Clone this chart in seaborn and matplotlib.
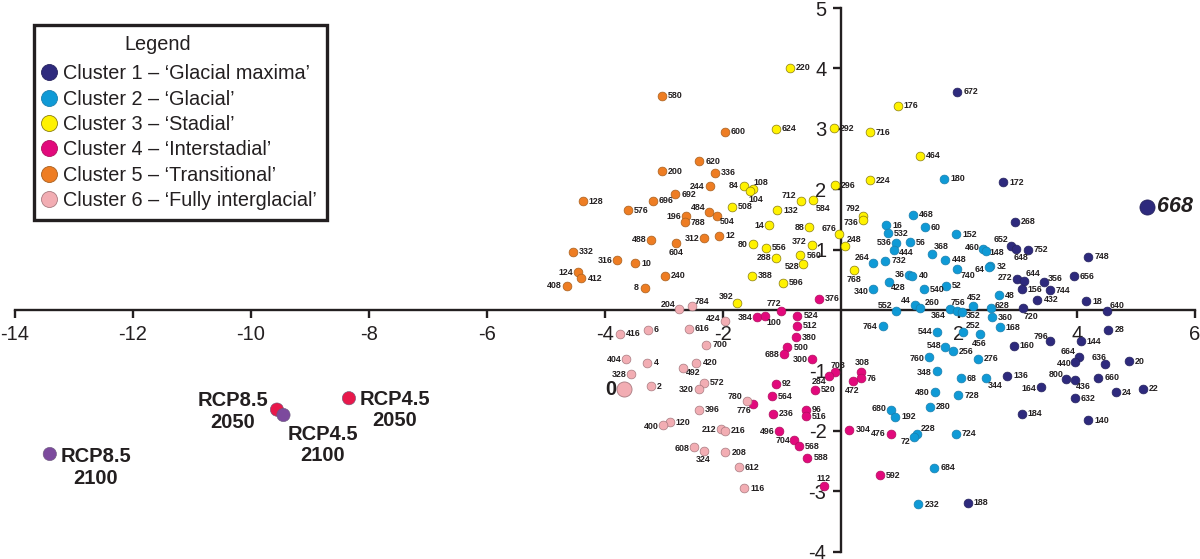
import pandas as pd
import numpy as np
import matplotlib
matplotlib.use("Agg")
import matplotlib.pyplot as plt
from matplotlib.lines import Line2D
import seaborn as sns

# cluster 1 - glacial maxima
c1_ids = [672, 172, 668, 268, 652, 648, 752, 748, 656, 272, 644, 356, 156, 744, 432, 18, 720, 640,
          28, 796, 144, 160, 664, 440, 636, 20, 136, 660, 800, 436, 164, 24, 22, 632, 184, 140, 188]
c1_x = [1.97, 2.75, 5.19, 2.95, 2.88, 2.96, 3.17, 4.19, 3.95, 2.98, 3.10, 3.44, 3.06, 3.54, 3.33, 4.16, 3.08, 4.50,
        4.53, 3.55, 4.06, 2.93, 4.03, 3.97, 4.47, 4.88, 2.82, 4.36, 3.81, 3.96, 3.39, 4.66, 5.12, 3.96, 3.06, 4.19, 2.15]
c1_y = [3.64, 2.13, 1.72, 1.47, 1.07, 1.02, 1.00, 0.89, 0.56, 0.52, 0.48, 0.47, 0.35, 0.33, 0.17, 0.15, 0.03, -0.01,
        -0.33, -0.52, -0.52, -0.60, -0.78, -0.86, -0.90, -0.85, -1.10, -1.13, -1.15, -1.16, -1.29, -1.37, -1.31, -1.47, -1.73, -1.84, -3.21]

# cluster 2 - glacial
c2_ids = [180, 468, 16, 60, 532, 152, 536, 56, 444, 460, 148, 368, 264, 732, 448, 740, 32, 64, 36, 40, 428, 52, 340,
          540, 48, 44, 260, 452, 628, 552, 756, 364, 352, 360, 764, 544, 252, 456, 168, 548, 256, 760, 276, 348, 68,
          344, 480, 728, 280, 680, 192, 228, 72, 724, 684, 232]
c2_x = [1.75, 1.22, 0.77, 1.42, 0.79, 1.95, 0.94, 1.17, 0.90, 2.41, 2.45, 1.55, 0.55, 0.75, 1.77, 1.97, 2.53, 2.50, 1.16, 1.21, 0.81, 1.78, 0.54,
        1.40, 2.67, 1.25, 1.34, 2.24, 2.54, 0.94, 1.84, 1.96, 2.05, 2.56, 0.71, 1.63, 2.06, 2.35, 2.69, 1.77, 1.89, 1.49, 2.32, 1.62, 2.03,
        2.45, 1.59, 1.99, 1.50, 0.84, 0.92, 1.28, 1.24, 1.95, 1.58, 1.31]
c2_y = [2.19, 1.59, 1.41, 1.38, 1.28, 1.26, 1.12, 1.13, 1.00, 1.02, 0.99, 0.94, 0.78, 0.82, 0.84, 0.69, 0.73, 0.71, 0.58, 0.57, 0.47, 0.40, 0.35,
        0.35, 0.25, 0.09, 0.04, 0.07, 0.03, -0.01, 0.01, -0.01, -0.03, -0.12, -0.27, -0.36, -0.36, -0.40, -0.29, -0.61, -0.69, -0.78, -0.81, -1.02, -1.14,
        -1.13, -1.37, -1.42, -1.61, -1.67, -1.78, -2.06, -2.11, -2.06, -2.63, -3.24]

# cluster 3 - stadial
c3_ids = [220, 624, 292, 296, 84, 108, 104, 508, 712, 584, 132, 14, 88, 676, 372, 80, 556, 288, 560, 528, 388, 596, 392,
          176, 716, 464, 224, 792, 736, 248, 768]
c3_x = [-0.87, -1.11, -0.12, -0.10, -1.65, -1.49, -1.54, -1.85, -0.68, -0.47, -1.08, -1.22, -0.54, -0.03, -0.50, -1.49, -1.27, -1.11, -0.69, -0.64, -1.51, -0.99, -1.77,
        0.96, 0.49, 1.34, 0.49, 0.37, 0.38, 0.06, 0.22]
c3_y = [4.04, 3.02, 3.03, 2.08, 2.07, 2.01, 1.98, 1.72, 1.81, 1.83, 1.66, 1.41, 1.38, 1.27, 1.09, 1.10, 1.04, 0.87, 0.91, 0.77, 0.57, 0.45, 0.11,
        3.40, 2.96, 2.57, 2.16, 1.57, 1.50, 1.07, 0.67]

# cluster 4 - interstadial
c4_ids = [376, 772, 384, 100, 524, 512, 380, 500, 688, 300, 708, 284, 308, 76, 472, 92, 520, 564, 776, 236, 96, 516, 496,
          304, 704, 568, 588, 112, 476, 592]
c4_x = [-0.38, -1.01, -1.42, -1.29, -0.74, -0.75, -0.77, -0.91, -0.97, -0.50, -0.10, -0.21, 0.34, 0.34, 0.20, -1.10, -0.44, -1.17, -1.50, -1.15, -0.60, -0.60, -1.05,
        0.14, -0.79, -0.71, -0.57, -0.29, 0.85, 0.66]
c4_y = [0.19, -0.01, -0.12, -0.10, -0.10, -0.26, -0.45, -0.62, -0.74, -0.81, -1.04, -1.10, -1.03, -1.14, -1.19, -1.23, -1.33, -1.44, -1.57, -1.73, -1.66, -1.77, -2.01,
        -2.00, -2.16, -2.27, -2.46, -2.94, -2.06, -2.75]

# cluster 5 - transitional
c5_ids = [580, 600, 620, 200, 336, 244, 692, 696, 128, 576, 484, 196, 504, 788, 12, 312, 488, 604, 332, 316, 10, 124, 412, 240, 408, 8]
c5_x = [-3.03, -1.97, -2.40, -3.03, -2.14, -2.22, -2.81, -3.19, -4.38, -3.61, -2.24, -2.63, -2.11, -2.65, -2.06, -2.32, -3.22, -2.80, -4.54, -3.79, -3.49, -4.46, -4.40, -2.98, -4.64, -3.33]
c5_y = [3.57, 2.97, 2.48, 2.31, 2.29, 2.06, 1.93, 1.82, 1.81, 1.66, 1.64, 1.56, 1.57, 1.46, 1.24, 1.20, 1.17, 1.12, 0.97, 0.84, 0.78, 0.64, 0.53, 0.57, 0.40, 0.37]

# cluster 6 - fully interglacial
c6_ids = [204, 784, 424, 616, 6, 416, 700, 404, 4, 420, 492, 328, 572, 2, 320, 0, 780, 396, 120, 400, 212, 216, 608, 324, 208, 612, 116]
c6_x = [-2.75, -2.53, -1.97, -2.58, -3.27, -3.75, -2.28, -3.64, -3.28, -2.45, -2.68, -3.56, -2.33, -3.22, -2.41, -3.67, -1.60, -2.41, -2.90, -3.02, -2.03, -1.97, -2.49, -2.33, -1.96, -1.73, -1.64]
c6_y = [0.01, 0.07, -0.19, -0.31, -0.33, -0.40, -0.58, -0.81, -0.88, -0.88, -0.96, -1.06, -1.21, -1.27, -1.31, -1.32, -1.51, -1.66, -1.87, -1.92, -1.99, -2.01, -2.29, -2.35, -2.37, -2.62, -2.97]

# future scenarios
rcp_names = ["RCP8.5\n2050", "RCP4.5\n2100", "RCP4.5\n2050", "RCP8.5\n2100"]
rcp_x = [-9.56, -9.45, -8.34, -13.41]
rcp_y = [-1.66, -1.75, -1.47, -2.40]
rcp_year = ["2050", "2100", "2050", "2100"]

cluster_names = ["Cluster 1 \u2013 \u2018Glacial maxima\u2019", "Cluster 2 \u2013 \u2018Glacial\u2019",
                 "Cluster 3 \u2013 \u2018Stadial\u2019", "Cluster 4 \u2013 \u2018Interstadial\u2019",
                 "Cluster 5 \u2013 \u2018Transitional\u2019", "Cluster 6 \u2013 \u2018Fully interglacial\u2019"]
x_ticks = [-14, -12, -10, -8, -6, -4, -2, 2, 4, 6]
y_ticks = [5, 4, 3, 2, 1, -1, -2, -3, -4]

colors = ["#2e2a7d", "#0f9ad6", "#fff200", "#e2097c", "#ee7d23", "#f2adb3"]
edges = ["#26235f", "#1a7fae", "#8a7d10", "#b0105f", "#a8601f", "#a87a80"]
rcp_colors = {"2050": "#e8184b", "2100": "#7c4a9d"}

# label placement in screen pixels from the dot centre (dx, dy down), anything else sits on the right
label_offsets = {
    244: (-12.7, 0), 484: (-10.7, -4), 196: (-12, 0), 504: (10.7, 5.3), 312: (-12, 0.7), 488: (-12, 0), 604: (0.7, 10),
    316: (-12, 0.7), 124: (-12, 0.7), 408: (-12.7, 0), 8: (-8, 0), 84: (-10, 0), 108: (7.3, -6.7), 104: (6, 8.3),
    712: (-11.7, -5.7), 584: (10, 8.3), 14: (-9.7, 0), 88: (-9.7, 0), 676: (-10.3, -5.3), 372: (-12, -2.7), 80: (-10, 1),
    288: (-11.7, 0), 528: (-11, 3), 392: (-10.3, -6.7), 204: (-11, -4.7), 784: (10.7, -4.3), 772: (-7.7, -6.7),
    792: (-9.7, -7.3), 736: (-12.7, 2.7), 248: (10, -6), 768: (0, 9.3), 264: (-11, -5.3), 536: (-12.3, 0), 444: (12, 2.7),
    368: (8.7, -6.7), 460: (-11.3, -1.3), 148: (11.7, 2.3), 740: (10.3, 6.7), 64: (-9, 1.7), 36: (-9.3, -1), 428: (9.7, 6),
    340: (-11.7, 2), 552: (-11.7, -5), 44: (-9.3, -4.3), 260: (11.7, -4.7), 756: (8.7, -7), 364: (-18, 4.7), 352: (11.3, 3.3),
    452: (0.7, -8), 628: (11.3, -2.3), 652: (-10, -6.7), 648: (5, 9), 272: (-11.7, -1.3), 644: (8.7, -7.3), 356: (11.7, -3.7),
    720: (8.7, 8), 640: (10.3, -5), 424: (-11.7, -3.3), 384: (-12, 0.7), 100: (9.3, 6.3), 404: (-12, 0.7), 328: (-12.3, 1),
    492: (10.3, 5), 320: (-12.3, 0.7), 780: (-11.3, -4), 776: (-9, 6.7), 400: (-12, 1), 212: (-12, 0), 608: (-12.3, 1.3),
    324: (0, 9), 688: (-12, 0), 300: (-11.7, 1.3), 708: (2.7, -6.7), 284: (-9.7, 6), 308: (1, -9.3), 472: (-0.7, 8.7),
    496: (-12, 1), 704: (-11.7, 1.3), 112: (0, -8), 764: (-12.7, 0), 544: (-12.3, 0), 252: (10.3, -6.3), 456: (0, 9),
    548: (-11.7, -1.3), 760: (-11.7, 1.7), 348: (-12, 1), 344: (9.3, 7.7), 480: (-12.3, 0), 680: (-11.7, -1.3), 476: (-12.7, 0),
    72: (-8.7, 5), 228: (11.3, -4.7), 796: (-9.3, -4.7), 664: (-10.7, -5), 440: (-11.3, 1.7), 636: (-6, -6.7), 800: (-10, -4.3),
    436: (8.7, 6.7), 164: (-11.7, 0.7),
}
rcp_offsets = [(-44, 2), (39, 30), (46, 12), (46, 13.5)]

sns.set_style("white")
plt.rcParams["font.family"] = ["Liberation Sans", "DejaVu Sans"]
ink = "#231f20"

# values were read at 60 px per unit, the printed y axis is closer to 60.4
y_fix = 60 / 60.4

frames = []
for n, (ids, xs, ys) in enumerate([(c1_ids, c1_x, c1_y), (c2_ids, c2_x, c2_y), (c3_ids, c3_x, c3_y),
                                   (c4_ids, c4_x, c4_y), (c5_ids, c5_x, c5_y), (c6_ids, c6_x, c6_y)]):
    frames.append(pd.DataFrame({"id": ids, "x": xs, "y": np.array(ys) * y_fix, "cluster": n}))
df = pd.concat(frames, ignore_index=True)
# 668 and sample 0 are the two big reference dots
big = df["id"].isin([668, 0])

fig = plt.figure(figsize=(12, 5.59), dpi=100)
ax = fig.add_axes([0, 0, 1, 1])
ax.set_xlim((0 - 841) / 59, (1200 - 841) / 59)
ax.set_ylim((310 - 559) / 60.4, 310 / 60.4)

for n in range(6):
    sub = df[(df["cluster"] == n) & ~big]
    sns.scatterplot(data=sub, x="x", y="y", color=colors[n], edgecolor=edges[n], linewidth=0.5, s=40,
                    legend=False, ax=ax, zorder=3)
    sub = df[(df["cluster"] == n) & big]
    if len(sub):
        sns.scatterplot(data=sub, x="x", y="y", color=colors[n], edgecolor=edges[n], linewidth=0.6, s=118,
                        legend=False, ax=ax, zorder=3)

rcp = pd.DataFrame({"x": rcp_x, "y": np.array(rcp_y) * y_fix, "year": rcp_year})
sns.scatterplot(data=rcp, x="x", y="y", hue="year", palette=rcp_colors, edgecolor="#6a5a7a", linewidth=0.4, s=92,
                legend=False, ax=ax, zorder=3)

for _, row in df.iterrows():
    i = int(row["id"])
    if i == 668:
        ax.annotate("668", (row["x"], row["y"]), xytext=(10, 0), textcoords="offset pixels", ha="left", va="center",
                    fontsize=15.5, fontweight="bold", fontstyle="italic", color=ink, zorder=4)
    elif i == 0:
        ax.annotate("0", (row["x"], row["y"]), xytext=(-14, 0), textcoords="offset pixels", ha="center", va="center",
                    fontsize=14.5, fontweight="bold", color=ink, zorder=4)
    elif i in label_offsets:
        dx, dy = label_offsets[i]
        ax.annotate(str(i), (row["x"], row["y"]), xytext=(dx, -dy), textcoords="offset pixels", ha="center", va="center",
                    fontsize=6.4, fontweight="bold", color=ink, zorder=4)
    else:
        ax.annotate(str(i), (row["x"], row["y"]), xytext=(6, 0), textcoords="offset pixels", ha="left", va="center",
                    fontsize=6.4, fontweight="bold", color=ink, zorder=4)

for name, x, y, (dx, dy) in zip(rcp_names, rcp["x"], rcp["y"], rcp_offsets):
    ax.annotate(name, (x, y), xytext=(dx, -dy), textcoords="offset pixels", ha="center", va="center",
                fontsize=14.5, fontweight="bold", color=ink, linespacing=1.15, zorder=4)

for side in ["top", "right"]:
    ax.spines[side].set_visible(False)
ax.spines["left"].set_position(("data", 0))
ax.spines["bottom"].set_position(("data", 0))
ax.spines["left"].set_bounds(-4, 5)
ax.spines["bottom"].set_bounds(-14, 6)
for side in ["left", "bottom"]:
    ax.spines[side].set_linewidth(1.7)
    ax.spines[side].set_color(ink)
    ax.spines[side].set_zorder(2)
ax.set_xticks(x_ticks, [str(v) for v in x_ticks])
ax.set_yticks(y_ticks, [str(v) for v in y_ticks])
ax.tick_params(axis="both", direction="out", length=6, width=1.7, color=ink, labelcolor=ink, labelsize=14.5, pad=4.5,
               bottom=True, left=True)
ax.set_xlabel("")
ax.set_ylabel("")

handles = [Line2D([], [], linestyle="", marker="o", markersize=11.5, markerfacecolor=c, markeredgecolor=e,
                  markeredgewidth=0.6) for c, e in zip(colors, edges)]
leg = ax.legend(handles, cluster_names, title="Legend", loc="upper left", bbox_to_anchor=(34 / 1200, 1 - 25 / 559),
                borderaxespad=0, frameon=True, fancybox=False, fontsize=14.3, title_fontsize=14.3,
                handletextpad=0.45, labelspacing=0.32, borderpad=0.5, handlelength=0.5, labelcolor=ink)
leg.get_frame().set_edgecolor(ink)
leg.get_frame().set_linewidth(2.4)
leg.get_frame().set_alpha(1)
leg.get_title().set_color(ink)
leg.get_title().set_position((-23, 0))
leg._legend_box.sep = 7.4

fig.savefig("out.png", dpi=100)
